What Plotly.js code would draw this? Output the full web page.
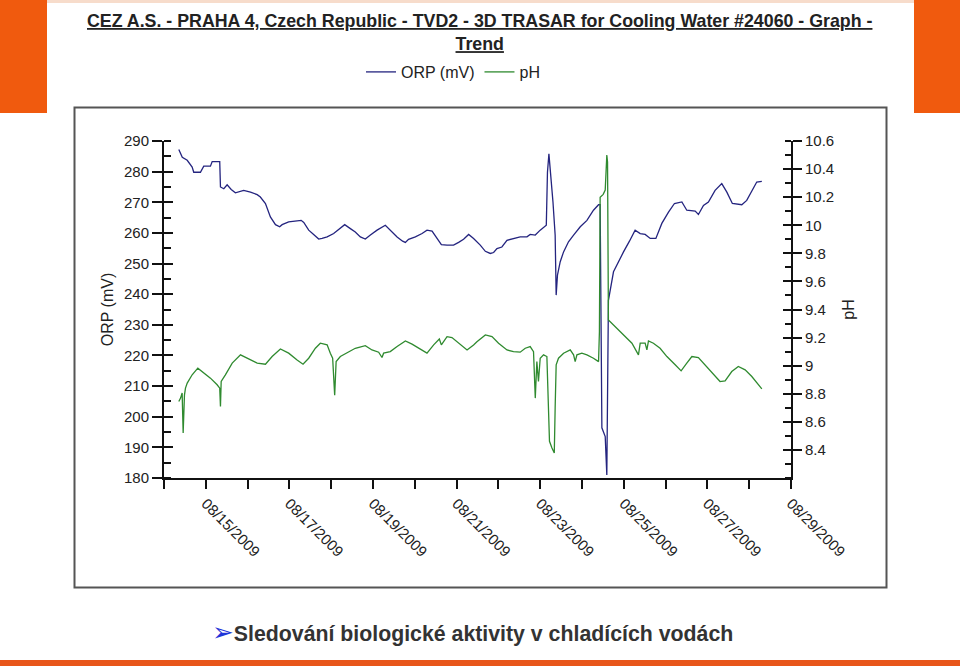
<!DOCTYPE html>
<html>
<head>
<meta charset="utf-8">
<script src="https://cdn.plot.ly/plotly-3.0.1.min.js"></script>
<style>html,body{margin:0;padding:0;background:#fff;}#chart{width:960px;height:666px;}</style>
</head>
<body>
<div id="chart"></div>
<script>
// ---- data ----
const orpTime = [
'2009-08-14 08:30','2009-08-14 10:30','2009-08-14 13:20','2009-08-14 16:10','2009-08-14 17:05','2009-08-14 20:55','2009-08-14 22:50',
'2009-08-15 02:40','2009-08-15 03:40','2009-08-15 08:00','2009-08-15 08:25','2009-08-15 10:20','2009-08-15 12:15','2009-08-15 14:35','2009-08-15 17:00','2009-08-15 21:45',
'2009-08-16 01:40','2009-08-16 05:30','2009-08-16 07:20','2009-08-16 10:15','2009-08-16 13:05','2009-08-16 16:00','2009-08-16 18:25','2009-08-16 19:50','2009-08-16 23:35',
'2009-08-17 06:45','2009-08-17 08:15','2009-08-17 11:05','2009-08-17 13:55','2009-08-17 16:50','2009-08-17 18:45','2009-08-17 21:40',
'2009-08-18 01:25','2009-08-18 04:15','2009-08-18 07:45','2009-08-18 11:00','2009-08-18 13:50','2009-08-18 16:45','2009-08-18 19:35','2009-08-18 22:30',
'2009-08-19 02:20','2009-08-19 07:05','2009-08-19 09:55','2009-08-19 13:50','2009-08-19 17:00','2009-08-19 18:35','2009-08-19 20:25',
'2009-08-20 00:20','2009-08-20 04:10','2009-08-20 07:00','2009-08-20 09:55','2009-08-20 12:45','2009-08-20 15:15','2009-08-20 18:30','2009-08-20 22:15',
'2009-08-21 01:10','2009-08-21 04:00','2009-08-21 06:55','2009-08-21 09:45','2009-08-21 13:35','2009-08-21 16:30','2009-08-21 19:20','2009-08-21 21:15','2009-08-21 23:10',
'2009-08-22 02:00','2009-08-22 04:55','2009-08-22 08:40','2009-08-22 12:30','2009-08-22 16:25','2009-08-22 18:15','2009-08-22 21:10',
'2009-08-23 00:00','2009-08-23 03:30','2009-08-23 04:10','2009-08-23 05:00','2009-08-23 05:45','2009-08-23 07:20','2009-08-23 08:35','2009-08-23 09:10','2009-08-23 09:55','2009-08-23 11:30','2009-08-23 13:25','2009-08-23 16:15','2009-08-23 19:10','2009-08-23 23:00',
'2009-08-24 02:50','2009-08-24 06:35','2009-08-24 09:30','2009-08-24 10:25','2009-08-24 11:25','2009-08-24 13:20','2009-08-24 14:15','2009-08-24 15:10','2009-08-24 18:05','2009-08-24 20:55','2009-08-24 23:50',
'2009-08-25 03:15','2009-08-25 06:30','2009-08-25 09:25','2009-08-25 12:15','2009-08-25 15:10','2009-08-25 18:25','2009-08-25 21:50',
'2009-08-26 01:40','2009-08-26 05:05','2009-08-26 09:20','2009-08-26 12:10','2009-08-26 17:00','2009-08-26 18:50','2009-08-26 21:45',
'2009-08-27 00:35','2009-08-27 04:25','2009-08-27 08:15','2009-08-27 11:10','2009-08-27 14:20','2009-08-27 19:45','2009-08-27 22:35',
'2009-08-28 01:30','2009-08-28 04:20','2009-08-28 07:15'
];
const orpValues = [
287.2,284.7,283.7,281.5,279.8,279.8,281.8,
281.8,283.3,283.3,275,274.4,275.7,274.2,273.1,273.9,
273.3,272.5,271.7,269.6,265.2,262.7,262,262.7,263.6,
264.1,263.4,260.9,259.5,258,258.2,258.7,
259.8,261.1,262.7,261.4,260.3,258.7,258,259.3,
260.9,262.5,260.9,258.7,257.3,256.9,257.9,
258.7,259.8,260.9,260.6,258.2,256.2,256,256,
256.9,257.9,259.5,258.2,256,254,253.3,253.6,254.9,
255.4,257.6,258.2,258.7,258.7,259.5,259.3,
260.9,262.5,279.8,285.8,281,270.1,259.3,239.7,246.2,250.6,253.8,257.1,259.3,262,
264.1,267.4,269.2,269.2,196.4,193.5,181,238,247.3,250.6,253.8,
257.3,260.9,259.8,259.5,258.2,258.2,263.1,
266.8,269.6,270.1,267.4,267.1,266,269,
270.1,273.9,276.1,273.3,269.6,269.2,270.6,
273.9,276.6,276.8
];
const phTime = [
'2009-08-14 08:30','2009-08-14 09:30','2009-08-14 10:25','2009-08-14 11:00','2009-08-14 11:45','2009-08-14 12:20','2009-08-14 13:20','2009-08-14 16:10','2009-08-14 19:25','2009-08-14 22:50',
'2009-08-15 02:40','2009-08-15 06:30','2009-08-15 08:00','2009-08-15 08:25','2009-08-15 08:50','2009-08-15 11:15','2009-08-15 15:10','2009-08-15 19:55',
'2009-08-16 00:40','2009-08-16 05:30','2009-08-16 10:15','2009-08-16 14:05','2009-08-16 18:50','2009-08-16 23:35',
'2009-08-17 04:25','2009-08-17 07:50','2009-08-17 11:05','2009-08-17 14:55','2009-08-17 17:45','2009-08-17 21:40','2009-08-17 23:30',
'2009-08-18 00:50','2009-08-18 02:00','2009-08-18 02:50','2009-08-18 05:15','2009-08-18 09:05','2009-08-18 13:50','2009-08-18 19:35','2009-08-18 23:25',
'2009-08-19 03:15','2009-08-19 05:10','2009-08-19 06:05','2009-08-19 09:55','2009-08-19 13:50','2009-08-19 18:35','2009-08-19 22:25',
'2009-08-20 02:10','2009-08-20 07:00','2009-08-20 10:50','2009-08-20 14:05','2009-08-20 15:15','2009-08-20 18:30','2009-08-20 21:20',
'2009-08-21 01:10','2009-08-21 06:00','2009-08-21 09:45','2009-08-21 11:40','2009-08-21 16:30','2009-08-21 20:20',
'2009-08-22 00:05','2009-08-22 04:55','2009-08-22 08:40','2009-08-22 12:30','2009-08-22 15:25','2009-08-22 18:15','2009-08-22 20:10','2009-08-22 21:10','2009-08-22 22:05','2009-08-22 23:00',
'2009-08-23 00:00','2009-08-23 01:55','2009-08-23 03:50','2009-08-23 04:45','2009-08-23 05:20','2009-08-23 06:45','2009-08-23 08:05','2009-08-23 08:35','2009-08-23 09:10','2009-08-23 10:30','2009-08-23 13:25','2009-08-23 17:15','2009-08-23 19:10','2009-08-23 20:05','2009-08-23 21:05','2009-08-23 23:55',
'2009-08-24 02:50','2009-08-24 06:35','2009-08-24 09:30','2009-08-24 10:00','2009-08-24 10:25','2009-08-24 12:10','2009-08-24 13:20','2009-08-24 14:15','2009-08-24 14:40','2009-08-24 15:10','2009-08-24 18:05','2009-08-24 21:55',
'2009-08-25 01:45','2009-08-25 04:40','2009-08-25 08:25','2009-08-25 09:25','2009-08-25 12:15','2009-08-25 13:15','2009-08-25 14:10','2009-08-25 17:00','2009-08-25 20:50',
'2009-08-26 00:45','2009-08-26 05:30','2009-08-26 08:55','2009-08-26 12:10','2009-08-26 15:05','2009-08-26 18:50','2009-08-26 22:40',
'2009-08-27 03:25','2009-08-27 07:15','2009-08-27 10:10','2009-08-27 14:00','2009-08-27 17:45','2009-08-27 21:40',
'2009-08-28 01:30','2009-08-28 04:20','2009-08-28 07:15'
];
const phValues = [
8.745,8.769,8.805,8.52,8.79,8.84,8.876,8.935,8.982,8.947,
8.911,8.864,8.84,8.71,8.887,8.935,9.018,9.077,
9.048,9.018,9.01,9.065,9.119,9.089,
9.041,9.01,9.053,9.124,9.16,9.148,9.089,
9.053,8.79,9.029,9.065,9.089,9.124,9.143,9.112,
9.096,9.058,9.089,9.1,9.136,9.176,9.153,
9.124,9.089,9.148,9.19,9.148,9.207,9.2,
9.16,9.112,9.148,9.171,9.219,9.207,
9.16,9.112,9.1,9.096,9.124,9.136,9.1,8.769,9.029,8.887,
9.053,9.077,9.065,8.698,8.461,8.414,8.378,8.698,9.006,9.053,9.089,9.112,9.077,9.029,9.077,9.089,
9.077,9.053,9.029,9.242,10.2,10.22,10.25,10.5,10.45,9.325,9.29,9.242,
9.195,9.16,9.077,9.16,9.16,9.112,9.176,9.16,9.124,
9.065,9.006,8.963,9.018,9.065,9.058,9.006,
8.935,8.887,8.892,8.958,8.994,8.97,
8.923,8.876,8.835
];
const orpRange = [180, 290];
const phRange = [8.2, 10.6];
const phTickVals = [8.4, 8.6, 8.8, 9, 9.2, 9.4, 9.6, 9.8, 10, 10.2, 10.4, 10.6];
const dateRange = ['2009-08-14', '2009-08-29'];
const titleText = 'CEZ A.S. - PRAHA 4, Czech Republic - TVD2 - 3D TRASAR for Cooling Water #24060 - Graph -<br>Trend';
const captionText = 'Sledování biologické aktivity v chladících vodách';

// ---- geometry helpers (page pixel -> paper fraction) ----
const W = 960, H = 666, ML = 164, MR = 169, MT = 141, MB = 188;
const PW = W - ML - MR, PHt = H - MT - MB;
const px = x => (x - ML) / PW;
const py = y => (H - MB - y) / PHt;

const FONT = 'Liberation Sans, Arial, sans-serif';
const DAY = 86400000;

const traces = [
  {x: orpTime, y: orpValues, type: 'scatter', mode: 'lines', name: 'ORP (mV)',
   line: {color: '#24247f', width: 1.3}, hoverinfo: 'x+y'},
  {x: phTime, y: phValues, type: 'scatter', mode: 'lines', name: 'pH', yaxis: 'y2',
   line: {color: '#2f8a2f', width: 1.3}, hoverinfo: 'x+y'},
  {x: [], y: [], yaxis: 'y3', showlegend: false, hoverinfo: 'skip'},
  {x: [], y: [], yaxis: 'y4', showlegend: false, hoverinfo: 'skip'}
];

const tickStyle = {tickcolor: '#111', tickwidth: 2};

const layout = {
  width: W, height: H,
  margin: {l: ML, r: MR, t: MT, b: MB, pad: 0},
  paper_bgcolor: '#ffffff', plot_bgcolor: '#ffffff',
  showlegend: true,
  font: {family: FONT, color: '#222'},
  legend: {orientation: 'h', x: px(453), xanchor: 'center', y: py(72), yanchor: 'middle',
           font: {family: FONT, size: 16, color: '#222'}, bgcolor: 'rgba(0,0,0,0)'},
  xaxis: Object.assign({
    type: 'date', range: dateRange, showgrid: false, zeroline: false,
    showline: true, linecolor: '#111', linewidth: 2,
    ticks: 'outside', ticklen: 9, dtick: 2 * DAY, tick0: '2009-08-15',
    tickformat: '%m/%d/%Y', tickangle: 45,
    tickfont: {family: FONT, size: 15, color: '#222'},
    minor: {dtick: DAY, ticks: 'outside', ticklen: 9, tickwidth: 2, tickcolor: '#111', showgrid: false}
  }, tickStyle),
  yaxis: Object.assign({
    range: orpRange, showgrid: false, zeroline: false,
    showline: true, linecolor: '#111', linewidth: 2,
    ticks: 'outside', ticklen: 10, dtick: 10, tick0: 180,
    tickfont: {family: FONT, size: 15, color: '#222'},
    minor: {dtick: 5, ticks: 'inside', ticklen: 7, tickwidth: 2, tickcolor: '#111', showgrid: false},
    title: {text: 'ORP (mV)', font: {family: FONT, size: 16, color: '#222'}, standoff: 6}
  }, tickStyle),
  yaxis3: Object.assign({
    range: orpRange, overlaying: 'y', side: 'left', showgrid: false, zeroline: false,
    showline: false, ticks: 'inside', ticklen: 9, dtick: 10, tick0: 180, showticklabels: false
  }, tickStyle),
  yaxis2: Object.assign({
    range: phRange, overlaying: 'y', side: 'right', showgrid: false, zeroline: false,
    showline: true, linecolor: '#111', linewidth: 2,
    ticks: 'outside', ticklen: 9, tickmode: 'array', tickvals: phTickVals,
    tickfont: {family: FONT, size: 15, color: '#222'},
    minor: {dtick: 0.1, tick0: 8.2, ticks: 'inside', ticklen: 6, tickwidth: 2, tickcolor: '#111', showgrid: false},
    title: {text: 'pH', font: {family: FONT, size: 16, color: '#222'}, standoff: 10}
  }, tickStyle),
  yaxis4: Object.assign({
    range: phRange, overlaying: 'y', side: 'right', showgrid: false, zeroline: false,
    showline: false, ticks: 'inside', ticklen: 8, tickmode: 'array', tickvals: phTickVals,
    showticklabels: false
  }, tickStyle),
  shapes: [
    {type: 'rect', xref: 'paper', yref: 'paper', x0: px(0), x1: px(47), y0: py(113), y1: py(0),
     fillcolor: '#F05A0E', line: {width: 0}, layer: 'below'},
    {type: 'rect', xref: 'paper', yref: 'paper', x0: px(914), x1: px(960), y0: py(113), y1: py(0),
     fillcolor: '#F05A0E', line: {width: 0}, layer: 'below'},
    {type: 'rect', xref: 'paper', yref: 'paper', x0: px(47), x1: px(914), y0: py(3), y1: py(0),
     fillcolor: '#F7DCCB', line: {width: 0}, layer: 'below'},
    {type: 'rect', xref: 'paper', yref: 'paper', x0: px(0), x1: px(960), y0: py(666), y1: py(660),
     fillcolor: '#E8561A', line: {width: 0}, layer: 'below'},
    {type: 'rect', xref: 'paper', yref: 'paper', x0: px(74.5), x1: px(886.5), y0: py(587.5), y1: py(107.5),
     fillcolor: 'rgba(0,0,0,0)', line: {color: '#555', width: 2}, layer: 'below'}
  ],
  annotations: [
    {xref: 'paper', yref: 'paper', x: px(480), y: py(9), xanchor: 'center', yanchor: 'top',
     showarrow: false, align: 'center', text: titleText,
     font: {family: FONT, size: 17.8, weight: 'bold', color: '#222', lineposition: 'under'}},
    {xref: 'paper', yref: 'paper', x: px(210), y: py(632), xanchor: 'left', yanchor: 'middle',
     showarrow: false,
     text: '<span style="color:#1f35d8;font-family:DejaVu Sans;font-size:26px">➢</span><b>' + captionText + '</b>',
     font: {family: FONT, size: 21.3, color: '#333'}}
  ]
};

Plotly.newPlot('chart', traces, layout, {displayModeBar: false, staticPlot: true});
</script>
</body>
</html>
